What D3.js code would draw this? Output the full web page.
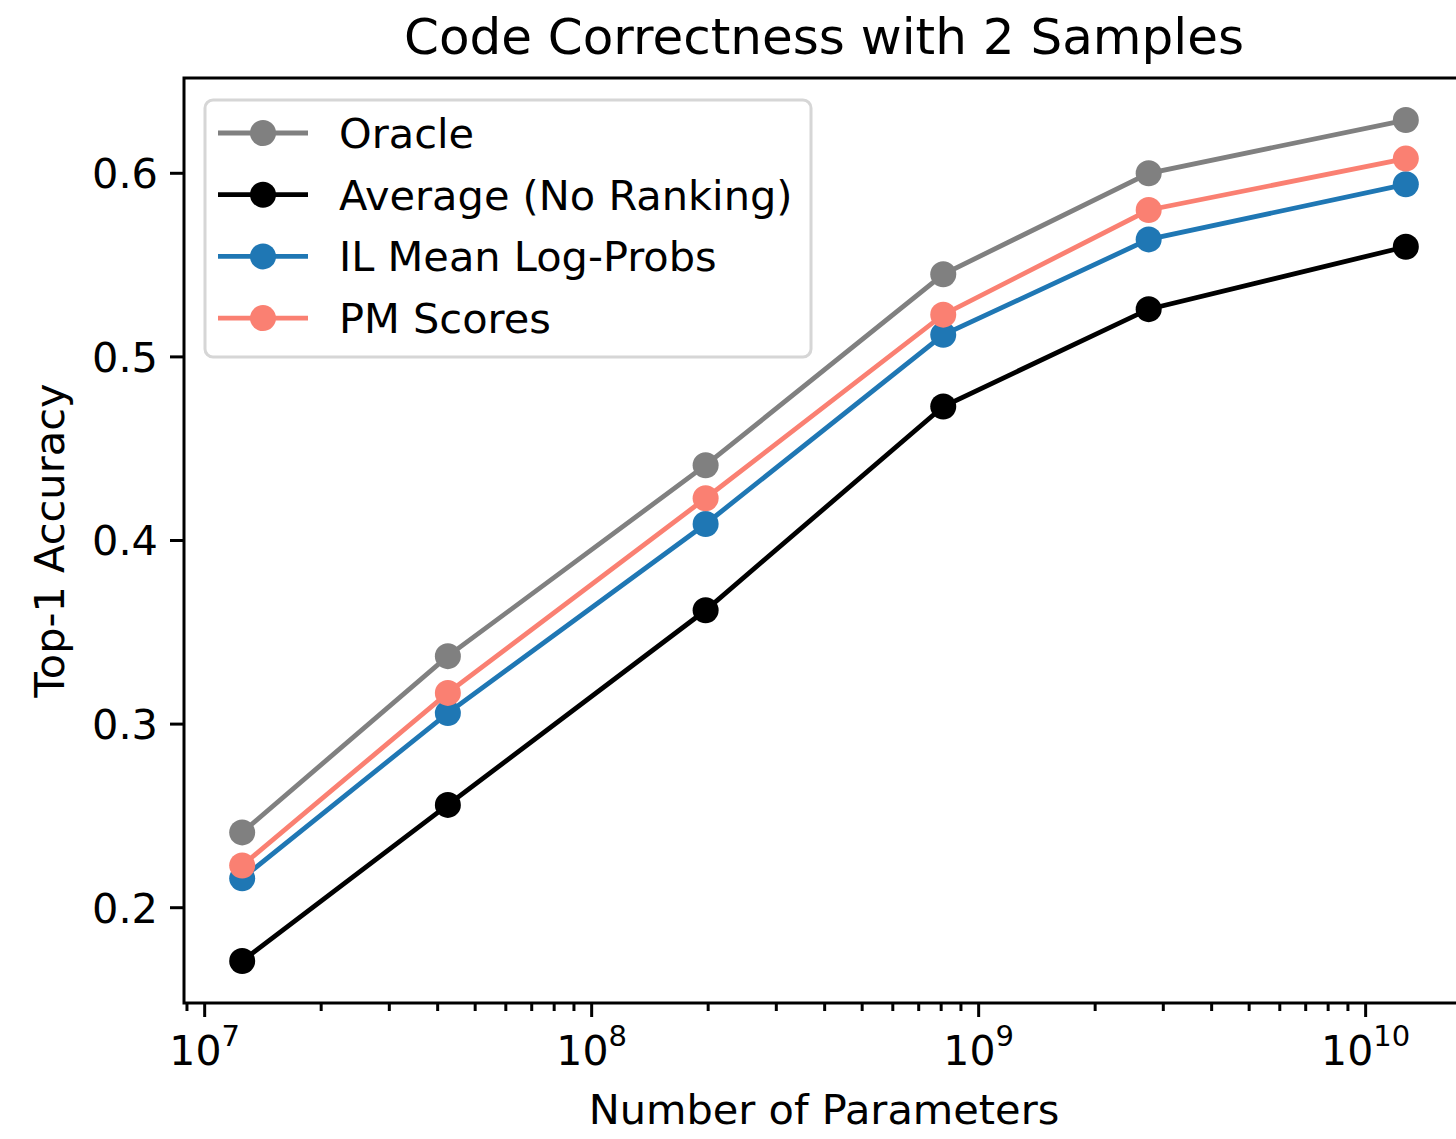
<!DOCTYPE html>
<html>
<head>
<meta charset="utf-8">
<script src="https://cdn.jsdelivr.net/npm/d3@7"></script>
<style>
  body { margin: 0; background: #fff; }
  svg text { font-family: "DejaVu Sans", sans-serif; fill: #000; }
</style>
</head>
<body>
<div id="chart"></div>
<script>
// model sizes (number of parameters)
var params = [1.25e7, 4.25e7, 1.97e8, 8.1e8, 2.75e9, 1.27e10];

var oracle = [0.241, 0.337, 0.441, 0.545, 0.600, 0.629];
var average = [0.171, 0.256, 0.362, 0.473, 0.526, 0.560];
var ilMean = [0.216, 0.306, 0.409, 0.512, 0.564, 0.594];
var pmScores = [0.223, 0.317, 0.423, 0.523, 0.580, 0.608];

var seriesNames = ["Oracle", "Average (No Ranking)", "IL Mean Log-Probs", "PM Scores"];
var seriesColors = ["#808080", "#000000", "#1f77b4", "#fa8072"];
var yTicks = [0.2, 0.3, 0.4, 0.5, 0.6];
var xMajor = [7, 8, 9, 10];

var series = [oracle, average, ilMean, pmScores];

var W = 1456, H = 1139;
var plot = { left: 184, right: 1464, top: 78, bottom: 1003 };

var svg = d3.select("#chart").append("svg")
  .attr("width", W)
  .attr("height", H);

// matplotlib-style 5% margins (log space for x)
var lx = params.map(function(d){ return Math.log10(d); });
var lxMin = d3.min(lx), lxMax = d3.max(lx), lxPad = (lxMax - lxMin) * 0.05;
var x = d3.scaleLog()
  .domain([Math.pow(10, lxMin - lxPad), Math.pow(10, lxMax + lxPad)])
  .range([plot.left, plot.right]);

var allY = d3.merge(series);
var yMin = d3.min(allY), yMax = d3.max(allY), yPad = (yMax - yMin) * 0.05;
var y = d3.scaleLinear()
  .domain([yMin - yPad, yMax + yPad])
  .range([plot.bottom, plot.top]);

var tickW = 3, spineW = 3;

// minor x ticks
var minor = [];
[6, 7, 8, 9, 10].forEach(function(e){
  for (var m = 2; m <= 9; m++) {
    var v = m * Math.pow(10, e);
    if (v >= x.domain()[0] && v <= x.domain()[1]) minor.push(v);
  }
});
svg.append("g").selectAll("line").data(minor).enter().append("line")
  .attr("x1", function(d){ return x(d); })
  .attr("x2", function(d){ return x(d); })
  .attr("y1", plot.bottom)
  .attr("y2", plot.bottom + 8)
  .attr("stroke", "#000")
  .attr("stroke-width", tickW);

// major x ticks + labels
var xg = svg.append("g").selectAll("g").data(xMajor).enter().append("g")
  .attr("transform", function(d){ return "translate(" + x(Math.pow(10, d)) + ",0)"; });
xg.append("line")
  .attr("y1", plot.bottom).attr("y2", plot.bottom + 14)
  .attr("stroke", "#000").attr("stroke-width", tickW);
var xt = xg.append("text")
  .attr("y", 1065)
  .attr("text-anchor", "middle")
  .style("font-size", "41px");
xt.append("tspan").text("10");
xt.append("tspan")
  .attr("dy", -19)
  .style("font-size", "29px")
  .text(function(d){ return d; });

// y ticks + labels
var yg = svg.append("g").selectAll("g").data(yTicks).enter().append("g")
  .attr("transform", function(d){ return "translate(0," + y(d) + ")"; });
yg.append("line")
  .attr("x1", plot.left - 14).attr("x2", plot.left)
  .attr("stroke", "#000").attr("stroke-width", tickW);
yg.append("text")
  .attr("x", plot.left - 26)
  .attr("dy", "0.36em")
  .attr("text-anchor", "end")
  .style("font-size", "41.5px")
  .text(function(d){ return d.toFixed(1); });

// lines and markers
var line = d3.line()
  .x(function(d, i){ return x(params[i]); })
  .y(function(d){ return y(d); });

series.forEach(function(s, k){
  var g = svg.append("g");
  g.append("path")
    .datum(s)
    .attr("d", line)
    .attr("fill", "none")
    .attr("stroke", seriesColors[k])
    .attr("stroke-width", 4.8);
  g.selectAll("circle").data(s).enter().append("circle")
    .attr("cx", function(d, i){ return x(params[i]); })
    .attr("cy", function(d){ return y(d); })
    .attr("r", 13)
    .attr("fill", seriesColors[k]);
});

// spines (right spine falls just outside the picture)
svg.append("rect")
  .attr("x", plot.left).attr("y", plot.top)
  .attr("width", plot.right - plot.left)
  .attr("height", plot.bottom - plot.top)
  .attr("fill", "none")
  .attr("stroke", "#000")
  .attr("stroke-width", spineW);

// legend
var leg = svg.append("g");
leg.append("rect")
  .attr("x", 205).attr("y", 100)
  .attr("width", 606).attr("height", 257)
  .attr("rx", 8).attr("ry", 8)
  .attr("fill", "rgba(255,255,255,0.8)")
  .attr("stroke", "#d6d6d6")
  .attr("stroke-width", 3);
var rows = leg.selectAll("g.row").data(seriesNames).enter().append("g")
  .attr("class", "row")
  .attr("transform", function(d, i){ return "translate(0," + (133 + i * 61.7) + ")"; });
rows.append("line")
  .attr("x1", 218).attr("x2", 308)
  .attr("stroke", function(d, i){ return seriesColors[i]; })
  .attr("stroke-width", 4.8);
rows.append("circle")
  .attr("cx", 263).attr("r", 13)
  .attr("fill", function(d, i){ return seriesColors[i]; });
rows.append("text")
  .attr("x", 339)
  .attr("dy", "0.36em")
  .style("font-size", "41.5px")
  .text(function(d){ return d; });

// title and axis labels
svg.append("text")
  .attr("x", (plot.left + plot.right) / 2)
  .attr("y", 54)
  .attr("text-anchor", "middle")
  .style("font-size", "50px")
  .text("Code Correctness with 2 Samples");

svg.append("text")
  .attr("x", (plot.left + plot.right) / 2)
  .attr("y", 1124)
  .attr("text-anchor", "middle")
  .style("font-size", "41.5px")
  .text("Number of Parameters");

svg.append("text")
  .attr("transform", "translate(64," + ((plot.top + plot.bottom) / 2) + ") rotate(-90)")
  .attr("text-anchor", "middle")
  .style("font-size", "41.5px")
  .text("Top-1 Accuracy");
</script>
</body>
</html>
